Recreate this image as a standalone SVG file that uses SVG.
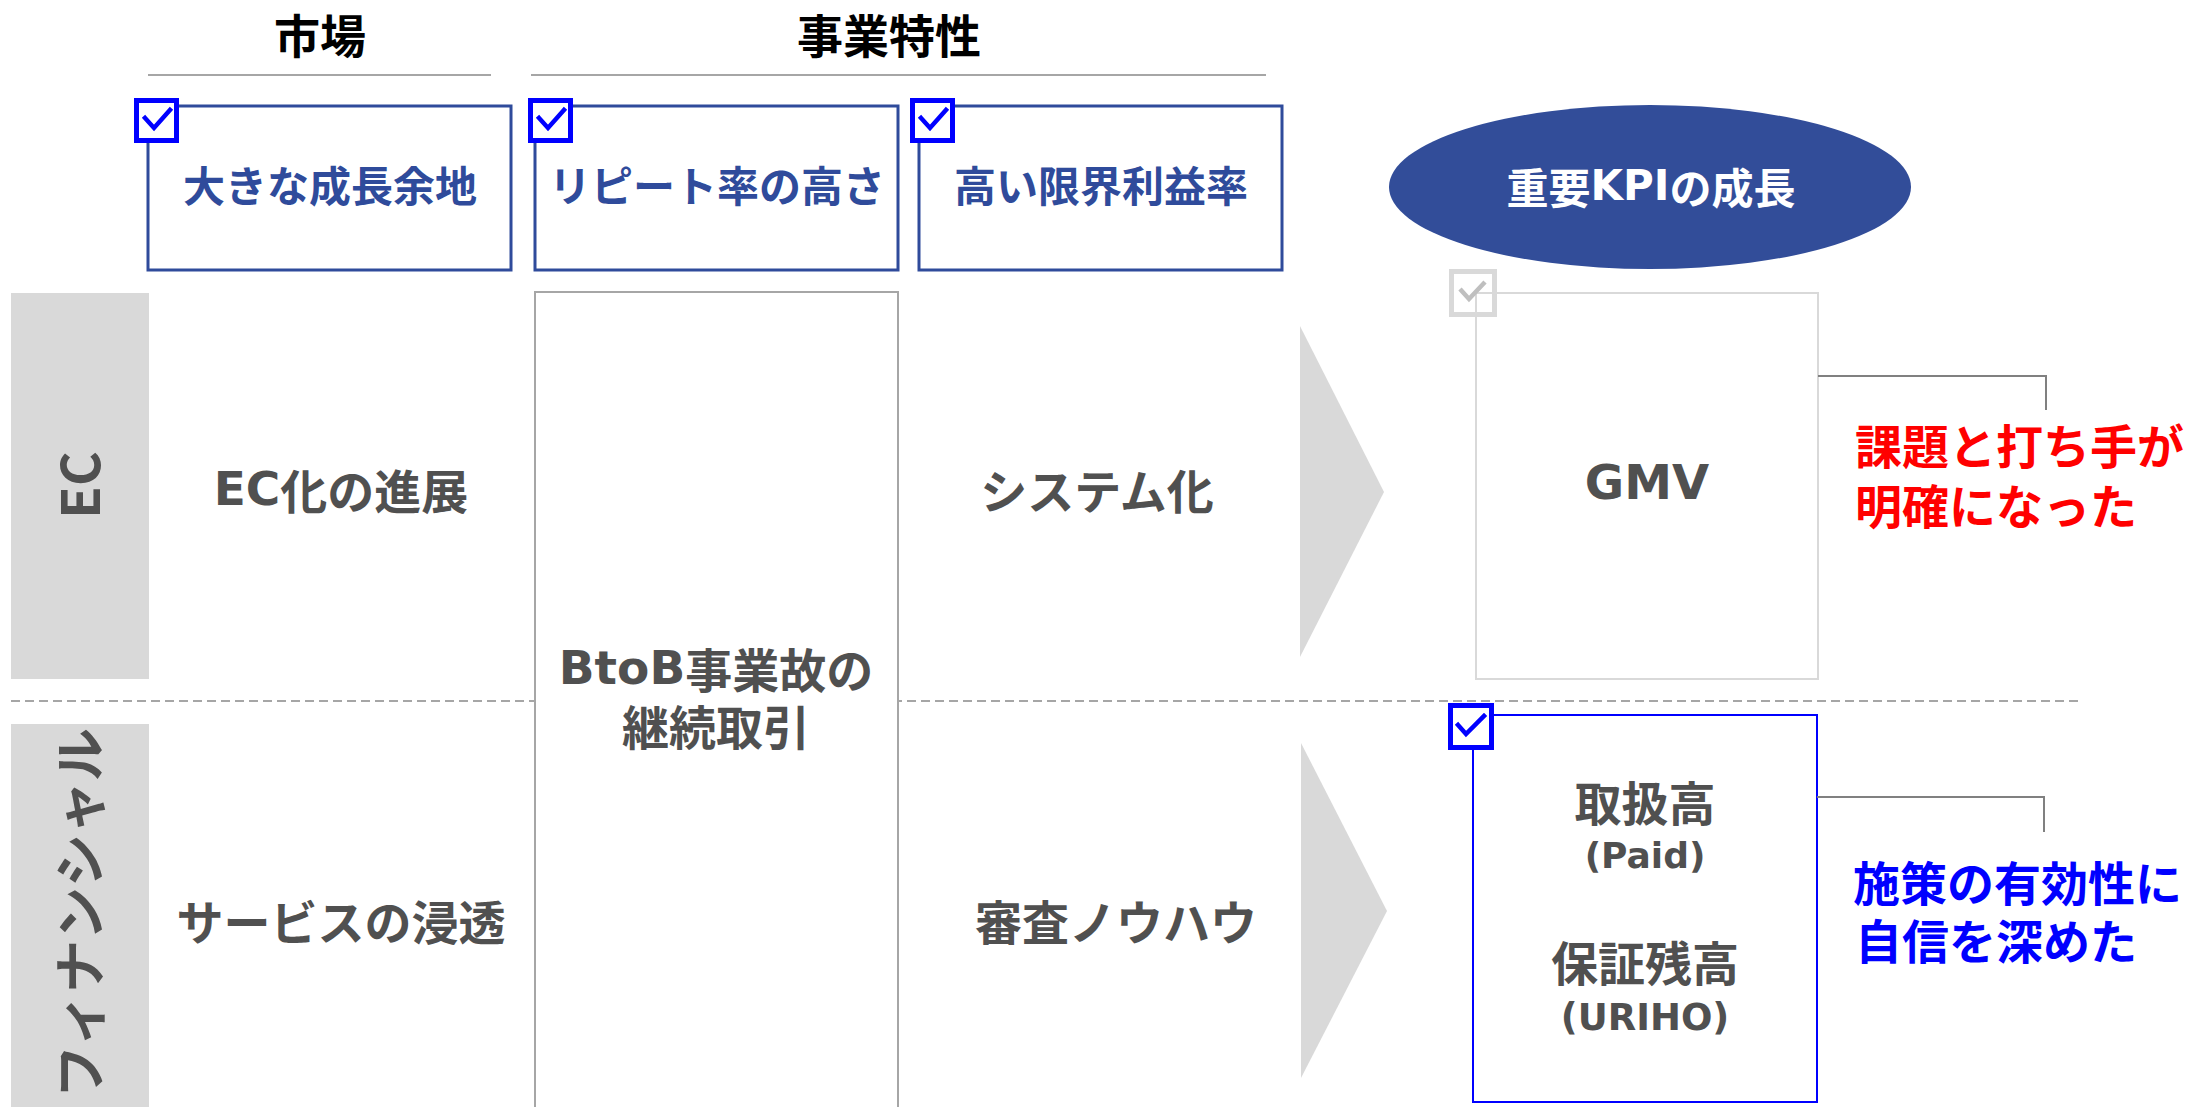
<svg xmlns="http://www.w3.org/2000/svg" width="2192" height="1107" viewBox="0 0 2192 1107">
<style>
  text { font-family: "Noto Sans CJK JP", "Noto Sans", sans-serif; font-weight: 700; }
  .hdr { font-size: 46px; fill: #000000; text-anchor: middle; dominant-baseline: central; }
  .hline { stroke: #A6A6A6; stroke-width: 2; }
  .topbox { fill: #FFFFFF; stroke: #2F4B9B; stroke-width: 3; }
  .toplbl { font-size: 42px; fill: #2F4B9B; text-anchor: middle; dominant-baseline: central; }
  .cb { fill: #FFFFFF; stroke: #0000FF; stroke-width: 5; }
  .ck { fill: none; stroke: #0000FF; stroke-width: 4.5; stroke-linecap: square; stroke-linejoin: miter; }
  .band { fill: #D9D9D9; }
  .bandlbl { font-size: 53px; fill: #505050; text-anchor: middle; dominant-baseline: central; }
  .cell { font-size: 47px; fill: #505050; text-anchor: middle; dominant-baseline: central; }
  .lat { font-family: "DejaVu Sans", "Noto Sans CJK JP", sans-serif; }
  .chev { fill: #D9D9D9; }
  .conn { fill: none; stroke: #808080; stroke-width: 2; }
  .note { font-size: 47px; dominant-baseline: central; }
</style>

<!-- headers -->
<g id="header-market">
  <text class="hdr" x="320" y="33">市場</text>
  <line class="hline" x1="148" y1="75" x2="491" y2="75"/>
</g>
<g id="header-business">
  <text class="hdr" x="889" y="33">事業特性</text>
  <line class="hline" x1="531" y1="75" x2="1266" y2="75"/>
</g>

<!-- top boxes -->
<g id="box-growth-room">
  <rect class="topbox" x="148" y="106" width="363" height="164"/>
  <rect class="cb" x="136.5" y="100.5" width="40" height="40"/>
  <polyline class="ck" points="145,118 154,128 170,110"/>
  <text class="toplbl" x="330" y="183">大きな成長余地</text>
</g>
<g id="box-repeat">
  <rect class="topbox" x="535" y="106" width="363" height="164"/>
  <rect class="cb" x="530.5" y="100.5" width="40" height="40"/>
  <polyline class="ck" points="539,118 548,128 564,110"/>
  <text class="toplbl" x="717" y="183">リピート率の高さ</text>
</g>
<g id="box-margin">
  <rect class="topbox" x="919" y="106" width="363" height="164"/>
  <rect class="cb" x="912.5" y="100.5" width="40" height="40"/>
  <polyline class="ck" points="921,118 930,128 946,110"/>
  <text class="toplbl" x="1101" y="183">高い限界利益率</text>
</g>
<g id="kpi-growth">
  <ellipse cx="1650" cy="187" rx="261" ry="82" fill="#324D99"/>
  <text class="toplbl" x="1651" y="185" style="fill:#FFFFFF">重要<tspan class="lat">KPI</tspan>の成長</text>
</g>

<!-- side bands -->
<g id="band-ec">
  <rect class="band" x="11" y="293" width="138" height="386"/>
  <text class="bandlbl" transform="translate(77,485) rotate(-90)">EC</text>
</g>
<g id="band-finance">
  <rect class="band" x="11" y="724" width="138" height="383"/>
  <text class="bandlbl" transform="translate(77,913) rotate(-90)">フィナンシャル</text>
</g>

<!-- divider -->
<line x1="11" y1="701" x2="2078" y2="701" stroke="#A6A6A6" stroke-width="2" stroke-dasharray="9,5"/>

<!-- cells -->
<g id="cell-ec-market"><text class="cell" x="341" y="488"><tspan class="lat">EC</tspan>化の進展</text></g>
<g id="cell-fin-market"><text class="cell" x="341" y="919">サービスの浸透</text></g>
<g id="cell-btob">
  <rect x="535" y="292" width="363" height="830" fill="#FFFFFF" stroke="#A6A6A6" stroke-width="2"/>
  <text class="cell" x="716" y="667"><tspan class="lat">BtoB</tspan>事業故の<tspan x="716" dy="57">継続取引</tspan></text>
</g>
<g id="cell-ec-system"><text class="cell" x="1097" y="488">システム化</text></g>
<g id="cell-fin-screening"><text class="cell" x="1116" y="919">審査ノウハウ</text></g>

<!-- chevrons -->
<g id="arrow-ec"><polygon class="chev" points="1300,326 1384,492 1300,657"/></g>
<g id="arrow-fin"><polygon class="chev" points="1301,743 1387,911 1301,1078"/></g>

<!-- KPI boxes -->
<g id="kpi-gmv">
  <rect x="1476" y="293" width="342" height="386" fill="#FFFFFF" stroke="#D9D9D9" stroke-width="2"/>
  <rect x="1451.5" y="271.5" width="43" height="43" fill="none" stroke="#D9D9D9" stroke-width="5"/>
  <polyline points="1460,289 1469,299 1485,282" fill="none" stroke="#BFBFBF" stroke-width="4.5"/>
  <text class="cell lat" x="1647" y="482" style="font-size:48px">GMV</text>
</g>
<g id="kpi-finance">
  <rect x="1473" y="715" width="344" height="387" fill="#FFFFFF" stroke="#0000FF" stroke-width="2"/>
  <rect class="cb" x="1450.5" y="705.5" width="41" height="42"/>
  <polyline class="ck" points="1458,725 1466,734 1484,716"/>
  <text class="cell" x="1645" y="800">取扱高</text>
  <text class="cell lat" x="1645" y="855" style="font-size:36px">(Paid)</text>
  <text class="cell" x="1645" y="960">保証残高</text>
  <text class="cell lat" x="1645" y="1017" style="font-size:37px">(URIHO)</text>
</g>

<!-- connectors -->
<g id="connectors">
  <polyline class="conn" points="1818,376 2046,376 2046,410"/>
  <polyline class="conn" points="1817,797 2044,797 2044,832"/>
</g>

<!-- notes -->
<g id="note-ec">
  <text class="note" x="1855" y="443" fill="#FF0000">課題と打ち手が<tspan x="1855" dy="60">明確になった</tspan></text>
</g>
<g id="note-fin">
  <text class="note" x="1853" y="880" fill="#0000FF">施策の有効性に<tspan x="1855" dy="58">自信を深めた</tspan></text>
</g>
</svg>
